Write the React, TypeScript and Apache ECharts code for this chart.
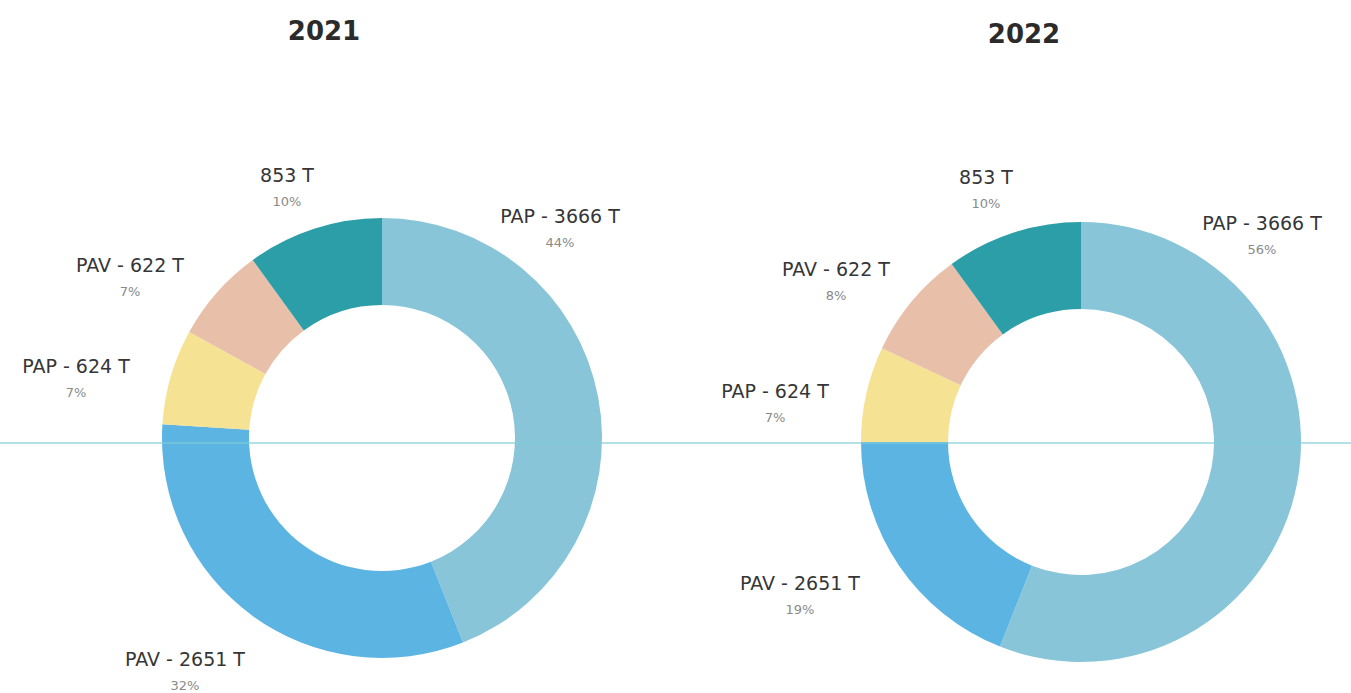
import React, { useEffect, useRef } from "react";
import * as echarts from "echarts";

const categories = ["PAP - 3666 T", "PAV - 2651 T", "PAP - 624 T", "PAV - 622 T", "853 T"];
const share2021 = [44, 32, 7, 7, 10];
const share2022 = [56, 19, 7, 8, 10];
const years = ["2021", "2022"];

const sliceColors = ["#88c5d9", "#5cb4e2", "#f5e292", "#e8c0a9", "#2c9ea7"];

// label block centres, relative to each donut centre (layout only)
const labelOffsets2021 = [[178, -211], [-197, 232], [-306, -61], [-252, -162], [-95, -252]];
const labelOffsets2022 = [[181, -208], [-281, 152], [-306, -40], [-245, -162], [-95, -254]];

const centers = [[382, 438], [1081, 442]];
const FONT = "'DejaVu Sans', 'Noto Sans', sans-serif";

export default function App() {
  const ref = useRef<HTMLDivElement>(null);
  useEffect(() => {
    if (!ref.current) return;
    const chart = echarts.init(ref.current, null, { renderer: "svg" });
    const shares = [share2021, share2022];
    const offsets = [labelOffsets2021, labelOffsets2022];
    const series = shares.map((vals, si) => ({
      type: "pie",
      center: centers[si],
      radius: [133, 220],
      startAngle: 90,
      clockwise: true,
      avoidLabelOverlap: false,
      silent: true,
      emphasis: { disabled: true },
      data: categories.map((c, i) => ({ name: c, value: vals[i], itemStyle: { color: sliceColors[i] } })),
      label: {
        show: true,
        position: "outside",
        formatter: "{n|{b}}\n{p|{c}%}",
        rich: {
          n: { fontFamily: FONT, fontSize: 19, color: "#363636", lineHeight: 31, align: "center" },
          p: { fontFamily: FONT, fontSize: 13, color: "#8a8a8a", lineHeight: 23, align: "center" },
        },
      },
      labelLine: { show: false },
      labelLayout: (params: any) => {
        const o = offsets[si][params.dataIndex];
        return {
          x: centers[si][0] + o[0],
          y: centers[si][1] + o[1],
          align: "center",
          verticalAlign: "middle",
        };
      },
    }));
    chart.setOption({
      animation: false,
      backgroundColor: "#ffffff",
      series,
      graphic: [
        {
          type: "text",
          x: 324,
          y: 31,
          z: 10,
          style: { text: years[0], fontFamily: FONT, fontWeight: 900, fontSize: 26, fill: "#2b2b2b", textAlign: "center", textVerticalAlign: "middle" },
        },
        {
          type: "text",
          x: 1024,
          y: 34,
          z: 10,
          style: { text: years[1], fontFamily: FONT, fontWeight: 900, fontSize: 26, fill: "#2b2b2b", textAlign: "center", textVerticalAlign: "middle" },
        },
        {
          type: "line",
          z: 100,
          shape: { x1: 0, y1: 443, x2: 1351, y2: 443 },
          style: { stroke: "#7fcdd8", lineWidth: 1.5, opacity: 0.8 },
        },
      ],
    });
    return () => chart.dispose();
  }, []);
  return <div ref={ref} style={{ position: "fixed", left: 0, top: 0, width: 1351, height: 693 }} />;
}
